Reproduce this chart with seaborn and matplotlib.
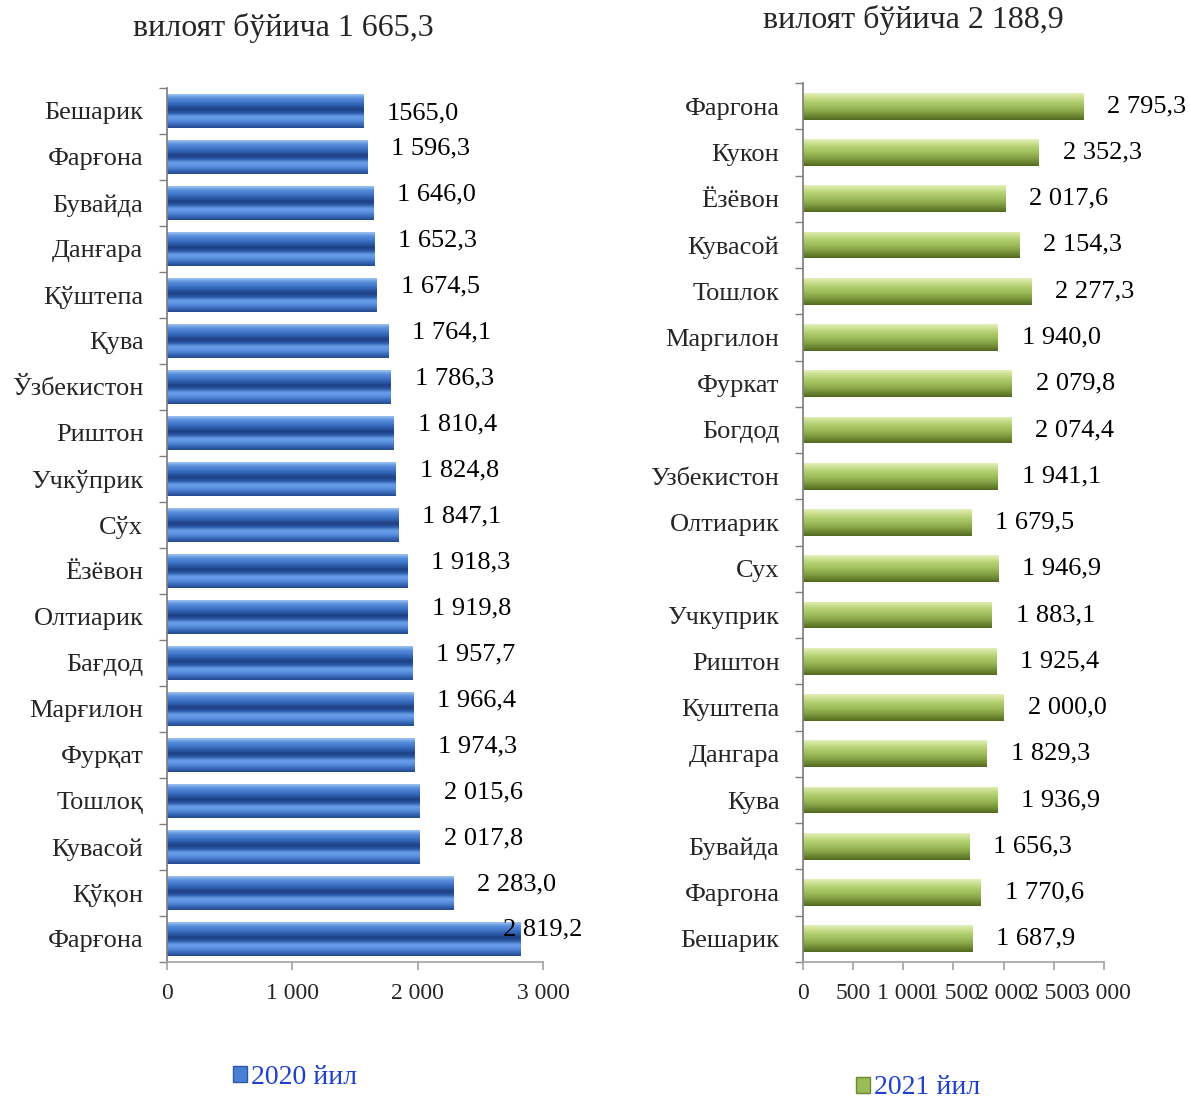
import numpy as np
import pandas as pd
import matplotlib
matplotlib.use('Agg')
import matplotlib.pyplot as plt
import seaborn as sns
from matplotlib.colors import LinearSegmentedColormap
from matplotlib.patches import Patch

# --- data ---
title_2020 = 'вилоят бўйича 1 665,3'
title_2021 = 'вилоят бўйича 2 188,9'

districts_2020 = ['Бешарик', 'Фарғона', 'Бувайда', 'Данғара', 'Қўштепа', 'Қува',
                  'Ўзбекистон', 'Риштон', 'Учкўприк', 'Сўх', 'Ёзёвон', 'Олтиарик',
                  'Бағдод', 'Марғилон', 'Фурқат', 'Тошлоқ', 'Кувасой', 'Қўқон', 'Фарғона']
values_2020 = [1565.0, 1596.3, 1646.0, 1652.3, 1674.5, 1764.1, 1786.3, 1810.4, 1824.8,
               1847.1, 1918.3, 1919.8, 1957.7, 1966.4, 1974.3, 2015.6, 2017.8, 2283.0, 2819.2]
labels_2020 = ['1565,0', '1 596,3', '1 646,0', '1 652,3', '1 674,5', '1 764,1', '1 786,3',
               '1 810,4', '1 824,8', '1 847,1', '1 918,3', '1 919,8', '1 957,7', '1 966,4',
               '1 974,3', '2 015,6', '2 017,8', '2 283,0', '2 819,2']

districts_2021 = ['Фаргона', 'Кукон', 'Ёзёвон', 'Кувасой', 'Тошлок', 'Маргилон', 'Фуркат',
                  'Богдод', 'Узбекистон', 'Олтиарик', 'Сух', 'Учкуприк', 'Риштон',
                  'Куштепа', 'Дангара', 'Кува', 'Бувайда', 'Фаргона', 'Бешарик']
values_2021 = [2795.3, 2352.3, 2017.6, 2154.3, 2277.3, 1940.0, 2079.8, 2074.4, 1941.1,
               1679.5, 1946.9, 1883.1, 1925.4, 2000.0, 1829.3, 1936.9, 1656.3, 1770.6, 1687.9]
labels_2021 = ['2 795,3', '2 352,3', '2 017,6', '2 154,3', '2 277,3', '1 940,0', '2 079,8',
               '2 074,4', '1 941,1', '1 679,5', '1 946,9', '1 883,1', '1 925,4', '2 000,0',
               '1 829,3', '1 936,9', '1 656,3', '1 770,6', '1 687,9']

ticks_2020 = [0, 1000, 2000, 3000]
ticklabels_2020 = ['0', '1 000', '2 000', '3 000']
ticks_2021 = [0, 500, 1000, 1500, 2000, 2500, 3000]
ticklabels_2021 = ['0', '500', '1 000', '1 500', '2 000', '2 500', '3 000']

sns.set_theme(style='white')
plt.rcParams['font.family'] = ['Liberation Serif', 'DejaVu Serif']

# vertical colour profiles (top -> bottom) to mimic the Excel-style bars
blue_cmap = LinearSegmentedColormap.from_list('blue_bar', [
    '#9cc2f2', '#5a8fdc', '#4378cc', '#2f5fae', '#1c3f82', '#2a58a6',
    '#6aa0ea', '#5a90e0', '#3b6cbc', '#24498e'])
green_cmap = LinearSegmentedColormap.from_list('green_bar', [
    '#e4efbb', '#c8de8c', '#b0cc6c', '#9ebe5c', '#8aa849', '#6f8c35', '#52681f'])


def shade_bars(ax, cmap):
    grad = np.linspace(0, 1, 64).reshape(-1, 1)
    xlim, ylim = ax.get_xlim(), ax.get_ylim()
    for p in ax.patches:
        x0, y0, w, h = p.get_x(), p.get_y(), p.get_width(), p.get_height()
        im = ax.imshow(grad, cmap=cmap, aspect='auto', interpolation='bicubic',
                       extent=(x0, x0 + w, y0 + h, y0), origin='upper', zorder=p.get_zorder() + 0.1)
        im.set_clip_path(p)
    ax.set_xlim(xlim)
    ax.set_ylim(ylim)


def draw_panel(ax, names, values, labels, color, cmap, width, dy, inside, ticks, ticklabels):
    n = len(names)
    df = pd.DataFrame({'pos': range(n), 'value': values})
    sns.barplot(data=df, x='value', y='pos', orient='h', order=list(range(n)),
                color=color, width=width, ax=ax, linewidth=0, saturation=1)
    ax.set_xlim(0, 3000)
    ax.set_ylim(n - 0.5, -0.5)
    shade_bars(ax, cmap)

    ax.set_yticks(range(n))
    ax.set_yticklabels(names, fontsize=19)
    ax.set_yticks(np.arange(-0.5, n, 1), minor=True)
    ax.tick_params(axis='y', which='major', length=0, pad=17)
    ax.tick_params(axis='y', which='minor', length=6, color='#808080', direction='out', left=True)
    ax.set_xticks(ticks)
    ax.set_xticklabels(ticklabels, fontsize=17)
    ax.tick_params(axis='x', length=6, color='#a6a6a6', direction='out', bottom=True, pad=9)
    ax.set_xlabel('')
    ax.set_ylabel('')

    for s in ['top', 'right']:
        ax.spines[s].set_visible(False)
    ax.spines['left'].set_color('#808080')
    ax.spines['bottom'].set_color('#a6a6a6')

    for i, (v, lab) in enumerate(zip(values, labels)):
        off = -17 if inside[i] else 24
        ax.annotate(lab, xy=(v, i), xytext=(off, dy[i]), textcoords='offset pixels',
                    ha='left', va='center', fontsize=19, color='black')


fig = plt.figure(figsize=(11.9, 11), dpi=100)
ax1 = fig.add_axes([0.1403, 0.1255, 0.316, 0.7945])
ax2 = fig.add_axes([0.6748, 0.1255, 0.2529, 0.799])

n20, n21 = len(values_2020), len(values_2021)
dy_2020 = [-2] + [9] * (n20 - 1)
dy_2021 = [0] * n21
inside_2020 = [False] * (n20 - 1) + [True]   # last label overlaps its bar in the source
inside_2021 = [False] * n21
draw_panel(ax1, districts_2020, values_2020, labels_2020, '#4a80d4', blue_cmap, 0.72,
           dy_2020, inside_2020, ticks_2020, ticklabels_2020)
draw_panel(ax2, districts_2021, values_2021, labels_2021, '#9bbb59', green_cmap, 0.58,
           dy_2021, inside_2021, ticks_2021, ticklabels_2021)

fig.text(283 / 1190, 1 - 28 / 1100, title_2020, ha='center', va='center', fontsize=23)
fig.text(913 / 1190, 1 - 20 / 1100, title_2021, ha='center', va='center', fontsize=23)

fig.legend(handles=[Patch(facecolor='#4a80d4', edgecolor='#2a58a6')], labels=['2020 йил'],
           loc='center', bbox_to_anchor=(295 / 1190, 1 - 1077 / 1100), frameon=False,
           handlelength=0.5, handleheight=0.5, handletextpad=0.15, fontsize=20,
           labelcolor='#1f3fd0')
fig.legend(handles=[Patch(facecolor='#9bbb59', edgecolor='#6c8a33')], labels=['2021 йил'],
           loc='center', bbox_to_anchor=(918 / 1190, 1 - 1088 / 1100), frameon=False,
           handlelength=0.5, handleheight=0.5, handletextpad=0.15, fontsize=20,
           labelcolor='#1f3fd0')

fig.savefig('out.png', dpi=100)
